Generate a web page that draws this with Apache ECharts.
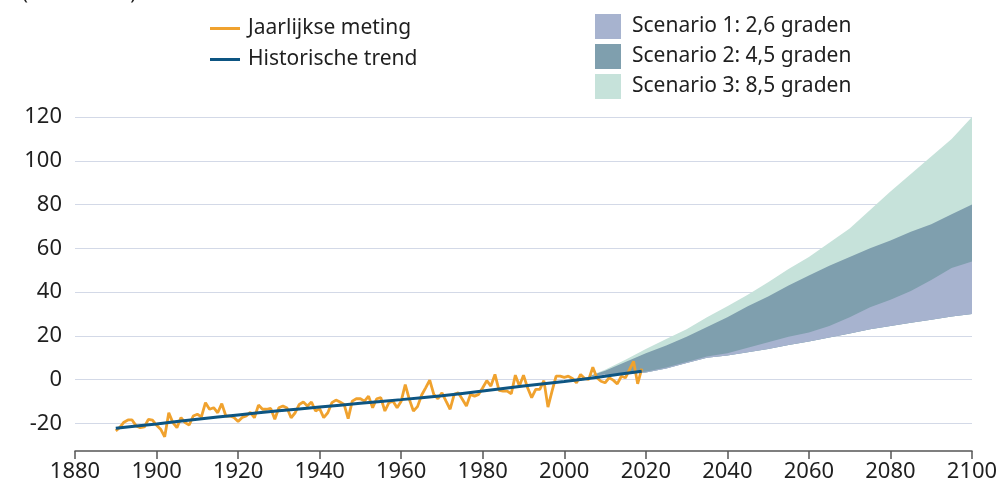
<!DOCTYPE html>
<html>
<head>
<meta charset="utf-8">
<script src="https://cdn.jsdelivr.net/npm/echarts@6/dist/echarts.min.js"></script>
<style>
html,body{margin:0;padding:0;background:#fff;}
#c{width:1002px;height:485px;}
</style>
</head>
<body>
<div id="c"></div>
<script>
// ---- data ----
const unitLabel = '(centimeter)';
const measureStartYear = 1890;
const measured = [
 -23.5,-21.9,-19.5,-18.5,-18.5,-21.2,-22,-21.7,-18.2,-18.6,
 -20.9,-22.7,-26.2,-15.2,-19.7,-22,-17.4,-19.7,-20.8,-16.7,
 -15.9,-17.1,-10.6,-13.6,-12.9,-15.2,-11,-16.7,-16.7,-17.4,
 -19.2,-17.4,-16.7,-15,-17.5,-11.7,-13.6,-13.6,-13.2,-18.2,
 -12.9,-12.1,-13,-17.5,-15.2,-11.4,-10.3,-12.1,-10.3,-14.4,
 -13.3,-17.4,-15.2,-10.6,-9.4,-10.3,-11.4,-17.9,-9.9,-8.8,
 -8.8,-9.9,-7.6,-12.9,-8.8,-8.3,-14.4,-10.6,-9.9,-12.9,
 -9.9,-2.3,-9.1,-14.4,-12.4,-7.2,-3.8,-0.3,-6.8,-8.8,
 -6.1,-9.9,-13.6,-6.8,-6.1,-9,-12.1,-6.8,-7.6,-6.8,
 -3.8,-0.5,-3,2.3,-5,-5.3,-5.3,-6.5,2,-3,
 2,-3.8,-8.3,-4.5,-4.5,-0.5,-12.6,-5.3,1.5,1.5,
 1,1.5,0.5,-1.5,2.3,0.5,0,5.6,0.8,-0.8,
 -1.5,0.8,-0.3,-2,1.5,0.8,4.5,8.3,-2,5
];
const trendYears  = [1890,1900,1910,1920,1930,1940,1950,1960,1970,1980,1990,2000,2010,2019];
const trendValues = [-22.3,-20.3,-18.2,-16.2,-14.3,-12.6,-10.9,-9.2,-7.4,-5.3,-3.0,-0.9,1.5,3.8];

const scenYears = [2006,2010,2015,2020,2025,2030,2035,2040,2045,2050,2055,2060,2065,2070,2075,2080,2085,2090,2095,2100];
const scen1Low  = [1.5,2.2,2.5,3.2,5,7.5,10,11,12.5,14,15.8,17.4,19.2,21,23,24.5,26,27.3,28.8,30];
const scen1High = [1.5,2.4,3,3.6,5.5,8,10.5,12,14.5,17,19.5,21.5,24.5,28.5,33,36.5,40.5,45.5,51,54];
const scen2High = [1.5,4,8,12,15.5,19.5,24,28.5,33.5,38,43,47.5,52,56,60,63.5,67.5,71,75.5,80];
const scen3High = [1.5,4.5,9,14,18.5,23,28.5,33.5,38.8,44.5,50.5,56,62.5,69,77.5,86,94,102,110,120];

const names = ['Jaarlijkse meting','Historische trend','Scenario 1: 2,6 graden','Scenario 2: 4,5 graden','Scenario 3: 8,5 graden'];
const xTicks = {min:1880, max:2100, step:20};
const yTicks = {min:-40, max:120, step:20};

// ---- build ----
const measuredData = measured.map((v,i)=>[measureStartYear+i, v]);
const trendData = trendYears.map((y,i)=>[y, trendValues[i]]);

const FONT = 'Noto Sans';
const TXT = '#1f1f1f';
const C_OR = '#f0a22e', C_BL = '#0d5582';
const C_S1 = '#a7b3cf', C_S2 = '#7f9fae', C_S3 = '#c6e2da';
const GRID = '#d3d9e7';

const nLines = (yTicks.max - yTicks.min)/yTicks.step + 1;
const splitColors = Array.from({length:nLines},(_,i)=> i===0 ? 'rgba(0,0,0,0)' : GRID);

function band(name, low, high, color){
  const data = scenYears.map((y,i)=>[y, low[i], high[i]]);
  return {name, type:'custom', data, silent:true, z:1,
    itemStyle:{color},
    encode:{x:0, y:[1,2]},
    renderItem:(params, api)=>{
      if (params.dataIndex !== 0) return null;
      const top = data.map(d=>api.coord([d[0], d[2]]));
      const bot = data.map(d=>api.coord([d[0], d[1]])).reverse();
      return {type:'polygon', shape:{points:top.concat(bot)}, style:{fill:color, stroke:null}};
    }};
}

const chart = echarts.init(document.getElementById('c'), null, {renderer:'canvas'});
chart.setOption({
  animation:false,
  backgroundColor:'#fff',
  textStyle:{fontFamily:FONT},
  grid:{left:75, right:30, top:117, bottom:18, containLabel:false},
  graphic:[{type:'text', left:22, top:-17, style:{text:unitLabel, font:'20px "Noto Sans"', fill:TXT}}],
  legend:[
    {data:[names[0],names[1]], orient:'vertical', left:205, top:13, itemWidth:30, itemHeight:3, icon:'rect',
     itemGap:10, textStyle:{fontFamily:FONT, fontSize:21, color:TXT, lineHeight:20, padding:[0,0,0,3]}, selectedMode:false},
    {data:[names[2],names[3],names[4]], orient:'vertical', left:590, top:9, itemWidth:26, itemHeight:25, icon:'rect',
     itemGap:5, textStyle:{fontFamily:FONT, fontSize:21, color:TXT, lineHeight:20, padding:[0,0,0,6]}, selectedMode:false}
  ],
  xAxis:{type:'value', min:xTicks.min, max:xTicks.max, interval:xTicks.step, offset:-16,
    axisLine:{show:true, onZero:false, lineStyle:{color:'#555', width:1.5}},
    axisTick:{show:true, length:8, lineStyle:{color:'#555', width:1.5}},
    axisLabel:{fontFamily:FONT, fontSize:22, color:TXT, margin:10, formatter:(v)=>String(v)},
    splitLine:{show:false}},
  yAxis:{type:'value', min:yTicks.min, max:yTicks.max, interval:yTicks.step,
    axisLine:{show:false}, axisTick:{show:false},
    axisLabel:{fontFamily:FONT, fontSize:22, color:TXT, margin:13,
      formatter:(v)=> v===yTicks.min ? '' : String(v)},
    splitLine:{show:true, lineStyle:{color:splitColors, width:1.2}}},
  series:[
    band(names[4], scen1Low, scen3High, C_S3),
    band(names[3], scen1Low, scen2High, C_S2),
    band(names[2], scen1Low, scen1High, C_S1),
    {name:names[0], type:'line', data:measuredData, symbol:'none', lineStyle:{color:C_OR, width:2.8}, itemStyle:{color:C_OR}, z:3},
    {name:names[1], type:'line', data:trendData, symbol:'none', smooth:0.3, lineStyle:{color:C_BL, width:3}, itemStyle:{color:C_BL}, z:4}
  ]
});
</script>
</body>
</html>
